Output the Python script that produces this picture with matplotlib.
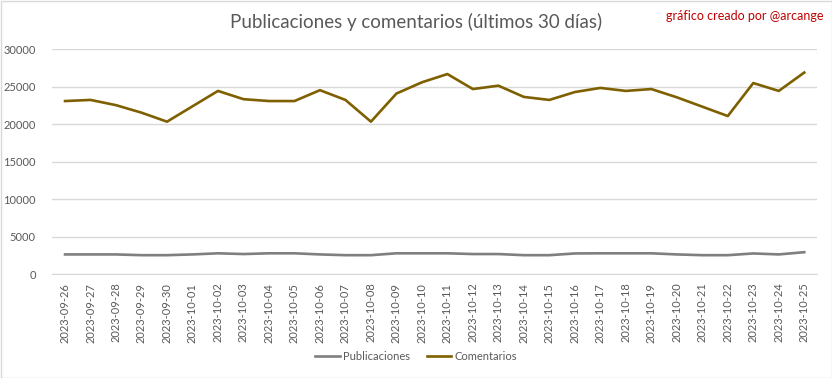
import matplotlib
matplotlib.use("Agg")
import matplotlib.pyplot as plt
from matplotlib.patches import Rectangle

dates = ["2023-09-26", "2023-09-27", "2023-09-28", "2023-09-29", "2023-09-30",
         "2023-10-01", "2023-10-02", "2023-10-03", "2023-10-04", "2023-10-05",
         "2023-10-06", "2023-10-07", "2023-10-08", "2023-10-09", "2023-10-10",
         "2023-10-11", "2023-10-12", "2023-10-13", "2023-10-14", "2023-10-15",
         "2023-10-16", "2023-10-17", "2023-10-18", "2023-10-19", "2023-10-20",
         "2023-10-21", "2023-10-22", "2023-10-23", "2023-10-24", "2023-10-25"]
publicaciones = [2650, 2650, 2650, 2550, 2550, 2650, 2800, 2700, 2800, 2800,
                 2650, 2550, 2550, 2800, 2800, 2800, 2700, 2700, 2550, 2550,
                 2780, 2800, 2800, 2800, 2650, 2550, 2550, 2780, 2650, 2950]
comentarios = [23100, 23250, 22550, 21550, 20350, 22400, 24450, 23350, 23100, 23100,
               24550, 23250, 20350, 24100, 25600, 26700, 24700, 25150, 23650, 23250,
               24300, 24850, 24450, 24700, 23600, 22350, 21100, 25500, 24450, 26900]
yticks = [0, 5000, 10000, 15000, 20000, 25000, 30000]

plt.rcParams['font.family'] = ['Lato', 'DejaVu Sans']

fig = plt.figure(figsize=(8.32, 3.78), dpi=100)
ax = fig.add_axes([52.3/832, 1 - 274.3/378, (817 - 52.3)/832, (274.3 - 49.3)/378])

x = list(range(len(dates)))
ax.plot(x, publicaciones, color="#7F7F7F", lw=1.9, label="Publicaciones", solid_joinstyle="round")
ax.plot(x, comentarios, color="#7F6000", lw=1.9, label="Comentarios", solid_joinstyle="round")

ax.set_xlim(-0.5, len(dates) - 0.5)
ax.set_ylim(0, 30000)
ax.set_yticks(yticks)
ax.set_yticklabels([str(v) for v in yticks])
ax.set_xticks(x)
ax.set_xticklabels(dates, rotation=90)
ax.grid(axis="y", color="#D9D9D9", lw=1)
ax.set_axisbelow(True)
for s in ["top", "right", "left"]:
    ax.spines[s].set_visible(False)
ax.spines["bottom"].set_color("#D9D9D9")
ax.tick_params(axis="both", length=0, labelsize=8, colors="#595959")
ax.tick_params(axis="y", pad=12)
ax.tick_params(axis="x", pad=6)

fig.text(0.5, 1 - 22/378, "Publicaciones y comentarios (últimos 30 días)",
         ha="center", va="center", fontsize=13.5, color="#595959")
fig.text(1 - 8/832, 1 - 16/378, "gráfico creado por @arcange",
         ha="right", va="center", fontsize=9, color="#C00000")

leg = fig.legend(loc="center", bbox_to_anchor=(416/832, 1 - 356/378), ncol=2,
                 frameon=False, fontsize=8, handlelength=2.2, columnspacing=1.5,
                 handletextpad=0.3)
for t in leg.get_texts():
    t.set_color("#595959")

fig.patches.append(Rectangle((0.5/832, 0.5/378), 1 - 1/832, 1 - 1/378,
                             transform=fig.transFigure, fill=False,
                             edgecolor="#D9D9D9", lw=1))

fig.savefig("out.png", dpi=100, facecolor="white")
